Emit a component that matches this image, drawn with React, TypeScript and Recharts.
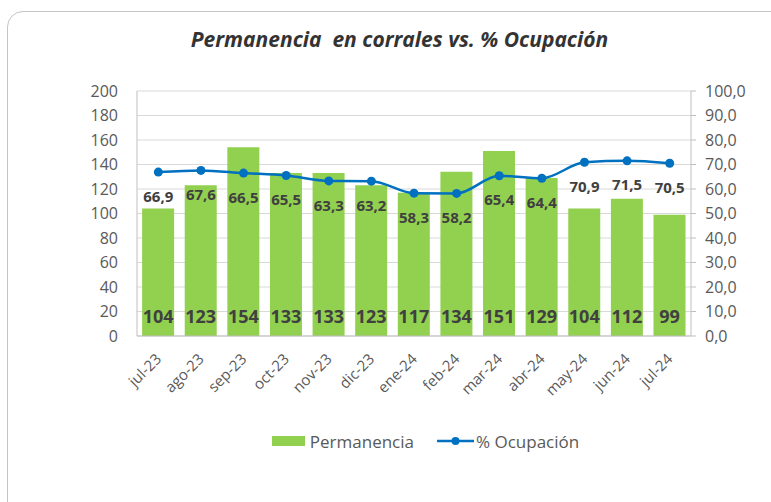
import React from 'react';
import {
  ComposedChart,
  Bar,
  Line,
  XAxis,
  YAxis,
  CartesianGrid,
  Legend,
  LabelList
} from 'recharts';

const months = ['jul-23', 'ago-23', 'sep-23', 'oct-23', 'nov-23', 'dic-23', 'ene-24', 'feb-24', 'mar-24', 'abr-24', 'may-24', 'jun-24', 'jul-24'];
const permanencia = [104, 123, 154, 133, 133, 123, 117, 134, 151, 129, 104, 112, 99];
const ocupacion = [66.9, 67.6, 66.5, 65.5, 63.3, 63.2, 58.3, 58.2, 65.4, 64.4, 70.9, 71.5, 70.5];
const leftTicks = [0, 20, 40, 60, 80, 100, 120, 140, 160, 180, 200];
const rightTicks = [0, 10, 20, 30, 40, 50, 60, 70, 80, 90, 100];
const edgeTicks = months.map((_, i) => i).concat(months.length);

const data = months.map((m, i) => ({ month: m, perm: permanencia[i], ocup: ocupacion[i] }));

const FONT = '"Open Sans", sans-serif';
const GREEN = '#92D050';
const BLUE = '#0070C0';
const AXIS_TEXT = '#595959';
const LABEL_TEXT = '#404040';

const fmtComma = (v: number) => v.toFixed(1).replace('.', ',');

// rotated month label, anchored at its end like Excel does
const MonthTick = (props: any) => {
  const { x, y, payload } = props;
  return (
    <g transform={`translate(${x + 4},${y + 16})`}>
      <text
        transform="rotate(-45)"
        textAnchor="end"
        fill={AXIS_TEXT}
        fontFamily={FONT}
        fontSize={15}
      >
        {payload.value}
      </text>
    </g>
  );
};

const LegendContent = () => (
  <div
    style={{
      display: 'flex',
      justifyContent: 'center',
      alignItems: 'center',
      height: 30,
      marginLeft: 100,
      fontFamily: FONT,
      fontSize: 17,
      color: AXIS_TEXT
    }}
  >
    <span style={{ display: 'inline-block', width: 33, height: 10, background: GREEN, marginRight: 5 }} />
    <span style={{ marginRight: 23 }}>Permanencia</span>
    <svg width={37} height={12} style={{ marginRight: 2 }}>
      <line x1={0} y1={6} x2={37} y2={6} stroke={BLUE} strokeWidth={2.5} />
      <circle cx={18.5} cy={6} r={4} fill={BLUE} />
    </svg>
    <span>% Ocupación</span>
  </div>
);

const App: React.FC = () => {
  return (
    <div style={{ position: 'fixed', left: 0, top: 0, width: 771, height: 502, background: '#fff', overflow: 'hidden' }}>
      <div
        style={{
          position: 'absolute',
          left: 7,
          top: 11,
          width: 820,
          height: 540,
          border: '1px solid #c4c4c4',
          borderRadius: 16
        }}
      />
      <div
        style={{
          position: 'absolute',
          left: 0,
          top: 25,
          width: 799,
          textAlign: 'center',
          fontFamily: FONT,
          fontSize: 21,
          fontWeight: 700,
          fontStyle: 'italic',
          color: '#333'
        }}
      >
        Permanencia&nbsp; en corrales vs. % Ocupación
      </div>
      <div style={{ position: 'absolute', left: 0, top: 0 }}>
        <ComposedChart
          width={771}
          height={502}
          data={data}
          margin={{ top: 91, right: 20, left: 0, bottom: 46 }}
          barCategoryGap="12%"
        >
          <CartesianGrid yAxisId="l" vertical={false} stroke="#d9d9d9" />
          <XAxis
            xAxisId="edges"
            type="number"
            domain={[0, months.length]}
            ticks={edgeTicks}
            interval={0}
            allowDataOverflow
            height={0}
            axisLine={false}
            tickLine={{ stroke: '#bfbfbf' }}
            tickSize={5}
            tickFormatter={() => ''}
          />
          <XAxis
            dataKey="month"
            height={90}
            interval={0}
            axisLine={{ stroke: '#bfbfbf' }}
            tickLine={false}
            tick={<MonthTick />}
          />
          <YAxis
            yAxisId="l"
            domain={[0, 200]}
            ticks={leftTicks}
            interval={0}
            width={137}
            axisLine={{ stroke: '#bfbfbf' }}
            tickLine={false}
            tickMargin={13}
            tick={{ fill: AXIS_TEXT, fontFamily: FONT, fontSize: 16 }}
          />
          <YAxis
            yAxisId="r"
            orientation="right"
            domain={[0, 100]}
            ticks={rightTicks}
            interval={0}
            width={60}
            axisLine={{ stroke: '#bfbfbf' }}
            tickLine={{ stroke: '#bfbfbf' }}
            tickSize={5}
            tickMargin={9}
            tickFormatter={fmtComma}
            tick={{ fill: AXIS_TEXT, fontFamily: FONT, fontSize: 16, textAnchor: 'start' }}
          />
          <Legend verticalAlign="bottom" content={<LegendContent />} />
          <Bar yAxisId="l" dataKey="perm" name="Permanencia" fill={GREEN} isAnimationActive={false}>
            <LabelList
              dataKey="perm"
              position="insideBottom"
              offset={13}
              fill={LABEL_TEXT}
              style={{ fontFamily: FONT, fontSize: 18, fontWeight: 700 }}
            />
          </Bar>
          <Line
            yAxisId="r"
            type="monotone"
            dataKey="ocup"
            name="% Ocupación"
            stroke={BLUE}
            strokeWidth={2.5}
            dot={{ r: 4.5, fill: BLUE, stroke: BLUE, strokeWidth: 0 }}
            isAnimationActive={false}
          >
            <LabelList
              dataKey="ocup"
              position="bottom"
              offset={19}
              formatter={(v: number) => fmtComma(v)}
              fill={LABEL_TEXT}
              style={{ fontFamily: FONT, fontSize: 15, fontWeight: 700 }}
            />
          </Line>
        </ComposedChart>
      </div>
    </div>
  );
};

export default App;
